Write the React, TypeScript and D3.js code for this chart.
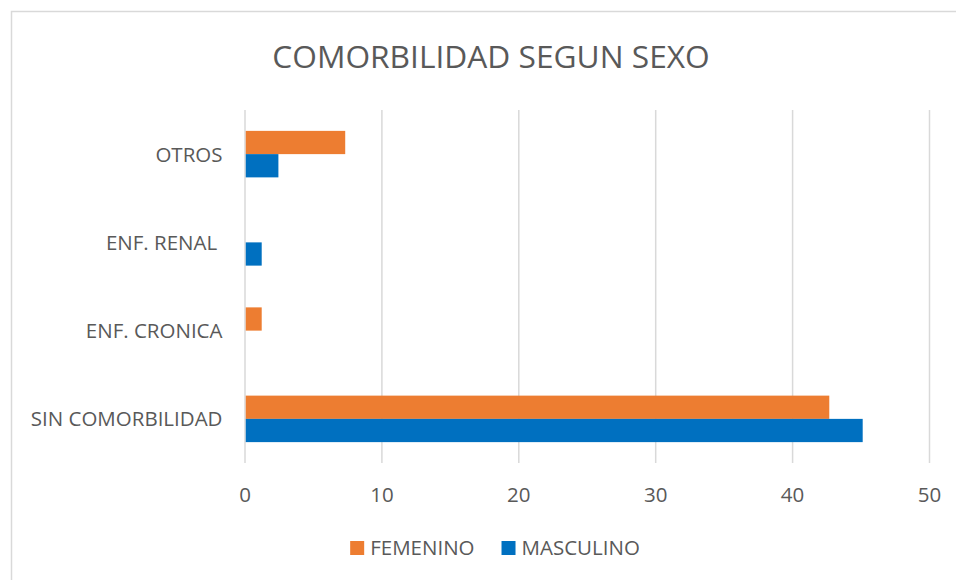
import React, { useEffect, useRef } from 'react';
import * as d3 from 'd3';

const categories = ['OTROS', 'ENF. RENAL ', 'ENF. CRONICA', 'SIN COMORBILIDAD'];
const series = ['FEMENINO', 'MASCULINO'];
const femenino = [7.32, 0, 1.22, 42.68];
const masculino = [2.44, 1.22, 0, 45.12];
const xTicks = [0, 10, 20, 30, 40, 50];
const colors = ['#ED7D31', '#0070C0'];

const title = 'COMORBILIDAD SEGUN SEXO';

export default function App() {
  const ref = useRef<SVGSVGElement>(null);

  useEffect(() => {
    const width = 956;
    const height = 580;
    const font = '"Open Sans", sans-serif';
    const textColor = '#595959';
    const gridColor = '#d9d9d9';

    const svg = d3.select(ref.current);
    svg.selectAll('*').remove();

    // chart frame (runs off the right/bottom edge like the original)
    svg
      .append('rect')
      .attr('x', 11.5)
      .attr('y', 11.5)
      .attr('width', 1200)
      .attr('height', 1200)
      .attr('fill', '#fff')
      .attr('stroke', gridColor)
      .attr('stroke-width', 1.5);

    const x = d3.scaleLinear().domain([0, 50]).range([245, 929.5]);
    const y = d3.scaleBand().domain(categories).range([110, 463]);
    const groupH = 46.5;
    const inner = d3.scaleBand().domain(series).range([0, groupH]);

    // title
    svg
      .append('text')
      .attr('x', 491)
      .attr('y', 67.5)
      .attr('text-anchor', 'middle')
      .style('font-family', font)
      .style('font-size', '31.7px')
      .style('fill', textColor)
      .text(title);

    // gridlines
    svg
      .append('g')
      .selectAll('line')
      .data(xTicks)
      .enter()
      .append('line')
      .attr('x1', (d) => x(d))
      .attr('x2', (d) => x(d))
      .attr('y1', 110)
      .attr('y2', 463)
      .attr('stroke', gridColor)
      .attr('stroke-width', 1.5);

    // tick labels
    svg
      .append('g')
      .selectAll('text')
      .data(xTicks)
      .enter()
      .append('text')
      .attr('x', (d) => x(d))
      .attr('y', 502)
      .attr('text-anchor', 'middle')
      .style('font-family', font)
      .style('font-size', '20.5px')
      .style('fill', textColor)
      .text((d) => d);

    // category labels
    svg
      .append('g')
      .selectAll('text')
      .data(categories)
      .enter()
      .append('text')
      .attr('x', 222.5)
      .attr('y', (d) => (y(d) as number) + y.bandwidth() / 2)
      .attr('dy', '0.37em')
      .attr('text-anchor', 'end')
      .style('white-space', 'pre')
      .style('font-family', font)
      .style('font-size', '20.5px')
      .style('fill', textColor)
      .text((d) => d);

    // bars
    const rows = categories.map((c, i) => ({
      cat: c,
      values: [femenino[i], masculino[i]],
    }));

    const groups = svg
      .append('g')
      .selectAll('g')
      .data(rows)
      .enter()
      .append('g')
      .attr(
        'transform',
        (d) => `translate(0,${(y(d.cat) as number) + (y.bandwidth() - groupH) / 2})`
      );

    groups
      .selectAll('rect')
      .data((d) => d.values.map((v, j) => ({ v, s: series[j], j })))
      .enter()
      .filter((d) => d.v > 0)
      .append('rect')
      .attr('x', x(0) + 0.75)
      .attr('y', (d) => inner(d.s) as number)
      .attr('width', (d) => x(d.v) - x(0) - 0.75)
      .attr('height', inner.bandwidth())
      .attr('fill', (d) => colors[d.j]);

    // legend
    const legend = svg.append('g');
    let cursor = 0;
    series.forEach((s, i) => {
      const item = legend.append('g').attr('transform', `translate(${cursor},0)`);
      item
        .append('rect')
        .attr('x', 0)
        .attr('y', 541)
        .attr('width', 14)
        .attr('height', 14)
        .attr('fill', colors[i]);
      const t = item
        .append('text')
        .attr('x', 20)
        .attr('y', 555)
        .style('font-family', font)
        .style('font-size', '20.5px')
        .style('fill', textColor)
        .text(s);
      const w = (t.node() as SVGTextElement).getComputedTextLength();
      cursor += 20 + w + 27;
    });
    const total = cursor - 27;
    legend.attr('transform', `translate(${495 - total / 2},0)`);
  }, []);

  return (
    <svg
      ref={ref}
      width={956}
      height={580}
      style={{ position: 'absolute', left: 0, top: 0 }}
    />
  );
}
